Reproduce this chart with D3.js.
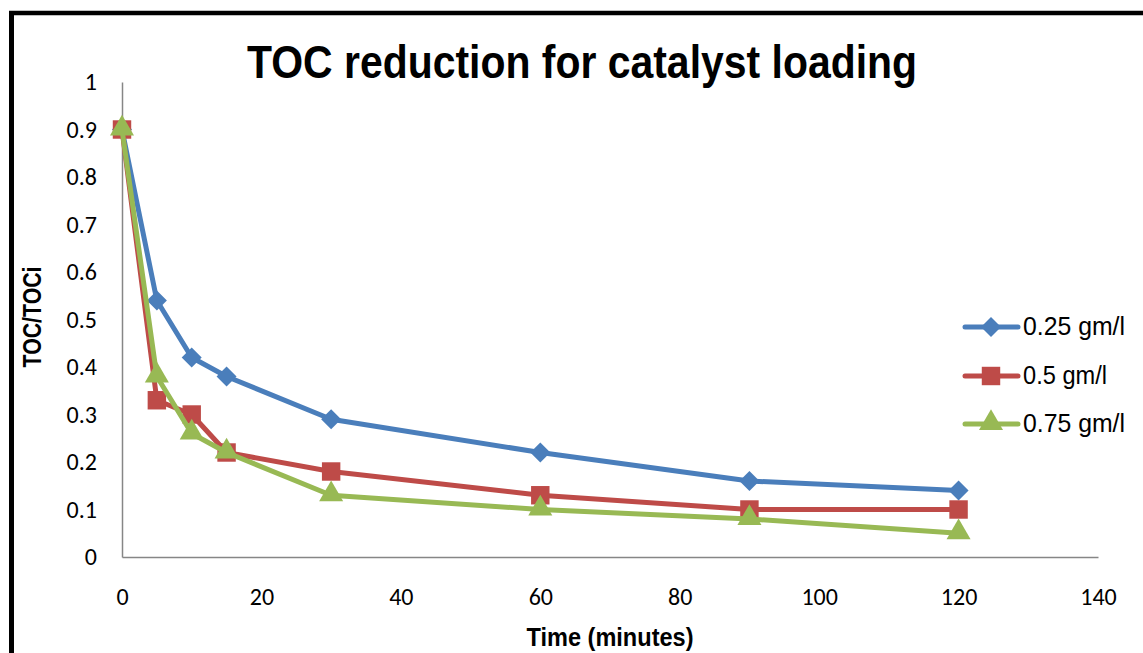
<!DOCTYPE html>
<html><head><meta charset="utf-8">
<script src="https://cdn.jsdelivr.net/npm/d3@7"></script>
<style>body{margin:0;background:#fff}svg{display:block}</style>
</head><body>
<script>
const times = [0, 5, 10, 15, 30, 60, 90, 120];
const s025 = [0.90, 0.54, 0.42, 0.38, 0.29, 0.22, 0.16, 0.14];
const s05  = [0.90, 0.33, 0.30, 0.22, 0.18, 0.13, 0.10, 0.10];
const s075 = [0.90, 0.38, 0.26, 0.22, 0.13, 0.10, 0.08, 0.05];
const seriesNames = ["0.25 gm/l", "0.5 gm/l", "0.75 gm/l"];
const seriesColors = ["#4A7EBB", "#BE4B48", "#98B954"];
const seriesShapes = ["diamond", "square", "triangle"];
const xTicks = [0, 20, 40, 60, 80, 100, 120, 140];
const yTicks = [0, 0.1, 0.2, 0.3, 0.4, 0.5, 0.6, 0.7, 0.8, 0.9, 1];
const titleText = "TOC reduction for catalyst loading";
const xTitle = "Time (minutes)";
const yTitle = "TOC/TOCi";

const W = 1143, H = 653;
const svg = d3.select("body").append("svg").attr("width", W).attr("height", H);

// outer border (top and left visible)
svg.append("line").attr("x1", 9).attr("x2", W).attr("y1", 13).attr("y2", 13).attr("stroke", "#000").attr("stroke-width", 4.5);
svg.append("line").attr("x1", 11.5).attr("x2", 11.5).attr("y1", 11).attr("y2", H).attr("stroke", "#000").attr("stroke-width", 5);

const x = d3.scaleLinear().domain([0, 140]).range([122, 1098]);
const y = d3.scaleLinear().domain([0, 1]).range([557, 82]);

const narrow = "'Liberation Sans Narrow', 'Arial Narrow', 'Liberation Sans', sans-serif";
const tickFont = "Carlito, Calibri, 'Liberation Sans', sans-serif";

// axes
const xAxis = svg.append("g").attr("transform", `translate(0,${y(0)})`)
  .call(d3.axisBottom(x).tickValues(xTicks).tickSize(0).tickPadding(31).tickFormat(d3.format("d")));
xAxis.select(".domain").attr("stroke", "#868686").attr("stroke-width", 1.5);
xAxis.selectAll("text").attr("font-family", tickFont).attr("font-size", 24).attr("fill", "#000");

const yAxis = svg.append("g").attr("transform", `translate(${x(0)},0)`)
  .call(d3.axisLeft(y).tickValues(yTicks).tickSize(0).tickPadding(25).tickFormat(d => d === 0 ? "0" : d === 1 ? "1" : d3.format(".1f")(d)));
yAxis.select(".domain").attr("stroke", "#868686").attr("stroke-width", 1.5);
yAxis.selectAll("text").attr("font-family", tickFont).attr("font-size", 24).attr("fill", "#000");

// titles
svg.append("text").attr("x", 582).attr("y", 78).attr("text-anchor", "middle")
  .attr("font-family", narrow).attr("font-weight", "bold").attr("font-size", 46)
  .attr("textLength", 670).attr("lengthAdjust", "spacingAndGlyphs").text(titleText);
svg.append("text").attr("x", 610).attr("y", 646).attr("text-anchor", "middle")
  .attr("font-family", narrow).attr("font-weight", "bold").attr("font-size", 25)
  .attr("textLength", 167).attr("lengthAdjust", "spacingAndGlyphs").text(xTitle);
svg.append("text").attr("transform", "translate(41,317) rotate(-90)").attr("text-anchor", "middle")
  .attr("font-family", narrow).attr("font-weight", "bold").attr("font-size", 25)
  .attr("textLength", 101).attr("lengthAdjust", "spacingAndGlyphs").text(yTitle);

const symbolFor = {
  diamond: d3.symbol().type(d3.symbolSquare).size(200),
  square: d3.symbol().type(d3.symbolSquare).size(340),
  triangle: d3.symbol().type(d3.symbolTriangle).size(250)
};
function drawMarker(g, shape, cx, cy, color) {
  const p = g.append("path").attr("d", symbolFor[shape]()).attr("fill", color);
  if (shape === "diamond") p.attr("transform", `translate(${cx},${cy}) rotate(45)`);
  else if (shape === "triangle") p.attr("transform", `translate(${cx},${cy - 1})`);
  else p.attr("transform", `translate(${cx},${cy})`);
}

const allSeries = [s025, s05, s075];
const line = d3.line().x(d => x(d[0])).y(d => y(d[1]));
allSeries.forEach((vals, i) => {
  const pts = times.map((t, j) => [t, vals[j]]);
  const g = svg.append("g");
  g.append("path").attr("d", line(pts)).attr("fill", "none").attr("stroke", seriesColors[i])
    .attr("stroke-width", 5).attr("stroke-linejoin", "round").attr("stroke-linecap", "round");
  pts.forEach(p => drawMarker(g, seriesShapes[i], x(p[0]), y(p[1]), seriesColors[i]));
});

// legend
const legY = [327, 376, 424];
seriesNames.forEach((name, i) => {
  const g = svg.append("g");
  g.append("line").attr("x1", 965).attr("x2", 1018).attr("y1", legY[i]).attr("y2", legY[i])
    .attr("stroke", seriesColors[i]).attr("stroke-width", 5).attr("stroke-linecap", "round");
  drawMarker(g, seriesShapes[i], 991, legY[i], seriesColors[i]);
  g.append("text").attr("x", 1023).attr("y", legY[i] + 8).attr("font-family", narrow)
    .attr("font-size", 25).attr("fill", "#000")
    .attr("textLength", i === 1 ? 84 : 102).attr("lengthAdjust", "spacingAndGlyphs").text(name);
});
</script>
</body></html>
